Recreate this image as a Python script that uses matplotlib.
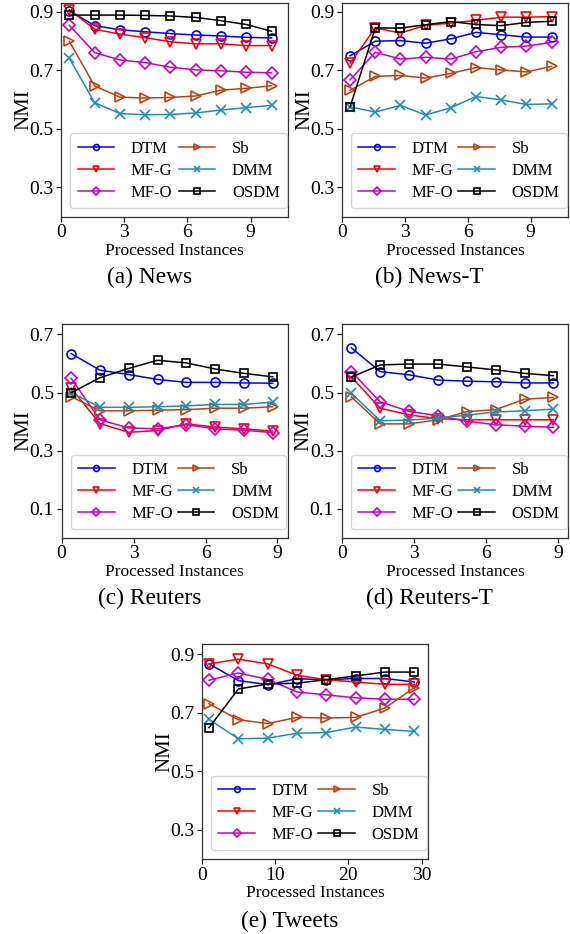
import matplotlib
matplotlib.use("Agg")
import matplotlib.pyplot as plt

plt.rcParams['font.family'] = ['Liberation Serif', 'DejaVu Serif']
plt.rcParams['mathtext.fontset'] = 'stix'

methods = ["DTM", "MF-G", "MF-O", "Sb", "DMM", "OSDM"]
colors = ["#0000FF", "#FF0000", "#CC00CC", "#C0400F", "#1F8EB3", "#000000"]
markers = ["o", "v", "D", ">", "x", "s"]
msizes = [6.5, 6.5, 6, 6.5, 6.5, 6]

# x positions
x_news = [0.4, 1.6, 2.8, 4.0, 5.2, 6.4, 7.6, 8.8, 10.0]
x_reuters = [0.4, 1.6, 2.8, 4.0, 5.2, 6.4, 7.6, 8.8]
x_tweets = [1, 5, 9, 13, 17, 21, 25, 29]

# (a) News
news_DTM = [0.903, 0.852, 0.838, 0.831, 0.825, 0.820, 0.817, 0.812, 0.810]
news_MFG = [0.906, 0.840, 0.823, 0.811, 0.797, 0.790, 0.790, 0.784, 0.784]
news_MFO = [0.853, 0.760, 0.735, 0.726, 0.710, 0.701, 0.698, 0.693, 0.691]
news_Sb = [0.798, 0.646, 0.608, 0.605, 0.607, 0.612, 0.632, 0.638, 0.647]
news_DMM = [0.740, 0.589, 0.552, 0.548, 0.549, 0.554, 0.564, 0.572, 0.580]
news_OSDM = [0.888, 0.888, 0.888, 0.887, 0.885, 0.880, 0.869, 0.856, 0.833]

# (b) News-T
newst_DTM = [0.749, 0.799, 0.801, 0.792, 0.807, 0.829, 0.821, 0.813, 0.813]
newst_MFG = [0.724, 0.844, 0.827, 0.853, 0.861, 0.870, 0.881, 0.881, 0.883]
newst_MFO = [0.667, 0.761, 0.738, 0.744, 0.738, 0.763, 0.778, 0.782, 0.795]
newst_Sb = [0.631, 0.679, 0.682, 0.673, 0.689, 0.709, 0.701, 0.694, 0.713]
newst_DMM = [0.575, 0.557, 0.580, 0.547, 0.572, 0.610, 0.599, 0.583, 0.585]
newst_OSDM = [0.575, 0.844, 0.844, 0.855, 0.866, 0.856, 0.852, 0.863, 0.867]

# (c) Reuters
reut_DTM = [0.634, 0.577, 0.562, 0.545, 0.535, 0.535, 0.533, 0.532]
reut_MFG = [0.515, 0.393, 0.363, 0.369, 0.392, 0.381, 0.375, 0.367]
reut_MFO = [0.549, 0.406, 0.378, 0.375, 0.389, 0.375, 0.370, 0.362]
reut_Sb = [0.486, 0.437, 0.437, 0.439, 0.441, 0.446, 0.446, 0.451]
reut_DMM = [0.500, 0.449, 0.449, 0.451, 0.454, 0.459, 0.459, 0.467]
reut_OSDM = [0.499, 0.551, 0.583, 0.611, 0.602, 0.581, 0.566, 0.554]

# (d) Reuters-T
reutt_DTM = [0.654, 0.572, 0.561, 0.543, 0.539, 0.537, 0.533, 0.533]
reutt_MFG = [0.554, 0.446, 0.423, 0.410, 0.406, 0.406, 0.406, 0.406]
reutt_MFO = [0.572, 0.468, 0.435, 0.420, 0.401, 0.389, 0.384, 0.380]
reutt_Sb = [0.485, 0.392, 0.392, 0.406, 0.434, 0.441, 0.477, 0.483]
reutt_DMM = [0.497, 0.403, 0.405, 0.412, 0.422, 0.433, 0.437, 0.443]
reutt_OSDM = [0.553, 0.595, 0.598, 0.598, 0.588, 0.578, 0.566, 0.558]

# (e) Tweets
tw_DTM = [0.867, 0.810, 0.796, 0.816, 0.813, 0.817, 0.817, 0.805]
tw_MFG = [0.867, 0.883, 0.867, 0.828, 0.813, 0.805, 0.797, 0.797]
tw_MFO = [0.811, 0.836, 0.814, 0.771, 0.761, 0.751, 0.746, 0.746]
tw_Sb = [0.731, 0.676, 0.663, 0.684, 0.682, 0.684, 0.716, 0.786]
tw_DMM = [0.677, 0.611, 0.613, 0.630, 0.632, 0.651, 0.643, 0.636]
tw_OSDM = [0.649, 0.781, 0.798, 0.801, 0.813, 0.826, 0.839, 0.839]

panels = [
    dict(x=x_news, ys=[news_DTM, news_MFG, news_MFO, news_Sb, news_DMM, news_OSDM],
         title="(a) News", xlim=(0, 10.8), ylim=(0.2, 0.93), xticks=[0, 3, 6, 9],
         yticks=[0.3, 0.5, 0.7, 0.9], pos=[0.107, 0.768, 0.399, 0.229],
         cap_x=150, cap_y=277),
    dict(x=x_news, ys=[newst_DTM, newst_MFG, newst_MFO, newst_Sb, newst_DMM, newst_OSDM],
         title="(b) News-T", xlim=(0, 10.8), ylim=(0.2, 0.93), xticks=[0, 3, 6, 9],
         yticks=[0.3, 0.5, 0.7, 0.9], pos=[0.5995, 0.768, 0.3975, 0.229],
         cap_x=429, cap_y=277),
    dict(x=x_reuters, ys=[reut_DTM, reut_MFG, reut_MFO, reut_Sb, reut_DMM, reut_OSDM],
         title="(c) Reuters", xlim=(0, 9.42), ylim=(0.0, 0.735), xticks=[0, 3, 6, 9],
         yticks=[0.1, 0.3, 0.5, 0.7], pos=[0.108, 0.4243, 0.3965, 0.2285],
         cap_x=150, cap_y=598),
    dict(x=x_reuters, ys=[reutt_DTM, reutt_MFG, reutt_MFO, reutt_Sb, reutt_DMM, reutt_OSDM],
         title="(d) Reuters-T", xlim=(0, 9.42), ylim=(0.0, 0.735), xticks=[0, 3, 6, 9],
         yticks=[0.1, 0.3, 0.5, 0.7], pos=[0.5995, 0.4243, 0.3975, 0.2285],
         cap_x=429, cap_y=598),
    dict(x=x_tweets, ys=[tw_DTM, tw_MFG, tw_MFO, tw_Sb, tw_DMM, tw_OSDM],
         title="(e) Tweets", xlim=(0, 30.9), ylim=(0.2, 0.934), xticks=[0, 10, 20, 30],
         yticks=[0.3, 0.5, 0.7, 0.9], pos=[0.3539, 0.0803, 0.3975, 0.2299],
         cap_x=290, cap_y=921),
]

fig = plt.figure(figsize=(5.70, 9.34), dpi=100)
W, H = 570.0, 934.0

for p in panels:
    ax = fig.add_axes(p["pos"])
    for name, c, m, ms, y in zip(methods, colors, markers, msizes, p["ys"]):
        ax.plot(p["x"], y, color=c, marker=m, markersize=ms, markerfacecolor='none',
                markeredgecolor=c, markeredgewidth=1.2, linewidth=1.1, label=name)
    ax.set_xlim(*p["xlim"])
    ax.set_ylim(*p["ylim"])
    ax.set_xticks(p["xticks"])
    ax.set_yticks(p["yticks"])
    ax.set_yticklabels(["%.1f" % v for v in p["yticks"]])
    ax.tick_params(labelsize=14, length=3.5, width=0.8, pad=2)
    for s in ax.spines.values():
        s.set_color('#333333')
        s.set_linewidth(0.9)
    ax.set_xlabel("Processed Instances", fontsize=12.5, labelpad=1)
    ax.set_ylabel("NMI", fontsize=15, labelpad=-3)
    ax.legend(ncol=2, loc='lower left', bbox_to_anchor=(0.04, 0.04, 0.955, 0.36),
              mode='expand', borderaxespad=0, fontsize=12, markerscale=0.65,
              handlelength=2.2, handletextpad=1.0, columnspacing=1.0,
              labelspacing=0.35, borderpad=0.45, frameon=True)
    fig.text(p["cap_x"] / W, 1 - p["cap_y"] / H, p["title"], ha='center', va='center',
             fontsize=16.8)

fig.savefig("out.png", dpi=100)
